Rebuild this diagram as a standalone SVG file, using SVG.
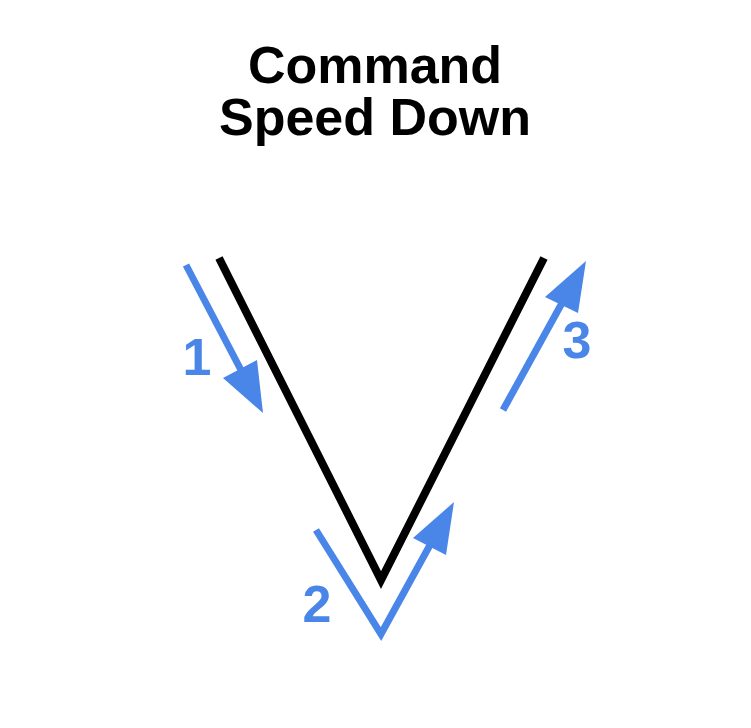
<svg xmlns="http://www.w3.org/2000/svg" width="751" height="728" viewBox="0 0 751 728">
<style>
.title{font-family:"Liberation Sans",Arial,sans-serif;font-weight:bold;font-size:52px;fill:#000;text-anchor:middle}
.lbl{font-family:"Liberation Sans",Arial,sans-serif;font-weight:bold;font-size:52px;fill:#4a86e8;text-anchor:middle}
.blue{stroke:#4a86e8;stroke-width:7;fill:none}
.head{fill:#4a86e8}
</style>
<rect width="751" height="728" fill="#fff"/>
<g id="title">
<text class="title" x="375" y="83">Command</text>
<text class="title" x="375" y="135">Speed Down</text>
</g>
<g id="v-shape">
<polyline points="219,258 381,580 544,258" fill="none" stroke="#000" stroke-width="8" stroke-linejoin="miter"/>
</g>
<g id="connectors">
<g id="arrow1">
<line class="blue" x1="186" y1="265" x2="242" y2="372"/>
<polygon class="head" points="263,413 223,378 257,360"/>
</g>
<g id="arrow2">
<polyline class="blue" points="316,530 381,634 430,545"/>
<polygon class="head" points="454,502 413,538 446,555"/>
</g>
<g id="arrow3">
<line class="blue" x1="503" y1="410" x2="562" y2="303"/>
<polygon class="head" points="586,261 545,297 578,313"/>
</g>
</g>
<g id="labels">
<text class="lbl" x="197" y="375">1</text>
<text class="lbl" x="317" y="622">2</text>
<text class="lbl" x="577" y="358">3</text>
</g>
</svg>
